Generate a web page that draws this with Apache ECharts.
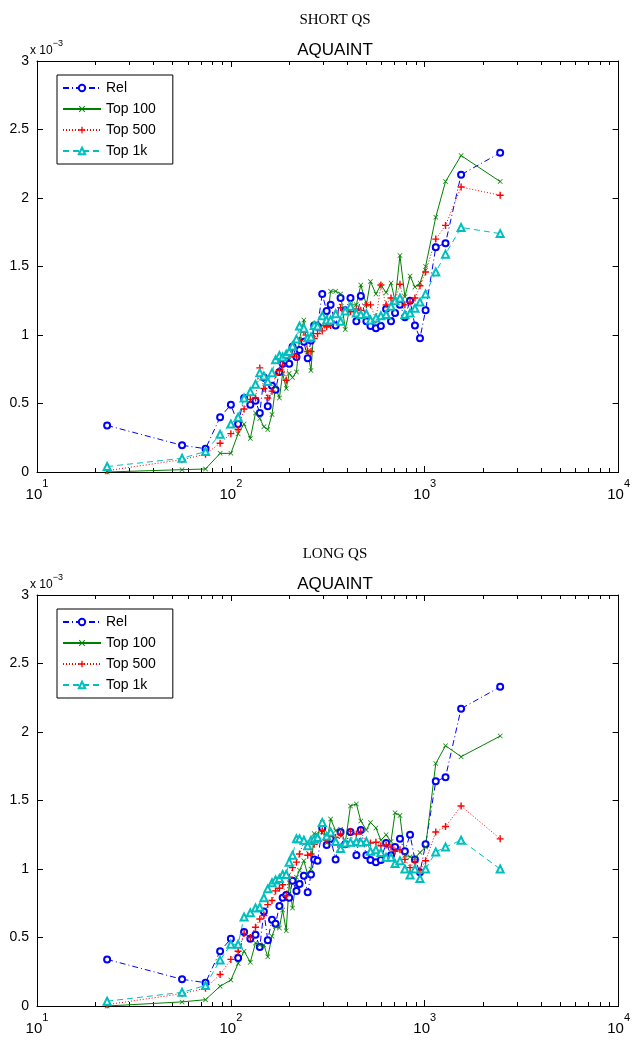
<!DOCTYPE html>
<html>
<head>
<meta charset="utf-8">
<script src="https://cdn.jsdelivr.net/npm/echarts@6/dist/echarts.min.js"></script>
<style>
  html, body { margin: 0; padding: 0; background: #fff; }
  #chart { width: 633px; height: 1040px; }
</style>
</head>
<body>
<div id="chart"></div>
<script>
// shared x positions (log scale)
var xVals = [23, 56, 74, 88, 100, 109, 117, 126, 134, 141, 148, 155, 163, 170, 178, 185, 193, 200, 208, 218,
    226, 238, 249, 259, 269, 280, 296, 312, 327, 347, 368, 389, 414, 444, 468, 500, 525, 560, 594, 632,
    670, 703, 745, 790, 840, 890, 945, 1010, 1140, 1280, 1540, 2450];

// values in units of 1e-3
var relVals = [0.34, 0.195, 0.17, 0.40, 0.49, 0.35, 0.54, 0.49, 0.52, 0.43, 0.69, 0.48, 0.63, 0.60, 0.73, 0.79, 0.81, 0.79, 0.915, 0.84,
    0.89, 0.95, 0.83, 0.96, 1.07, 1.06, 1.30, 1.175, 1.22, 1.07, 1.27, 1.18, 1.27, 1.10, 1.285, 1.10, 1.065, 1.05, 1.065, 1.19,
    1.10, 1.16, 1.22, 1.13, 1.25, 1.07, 0.976, 1.18, 1.64, 1.67, 2.17, 2.33];

var shortTop100 = [0.0, 0.017, 0.022, 0.136, 0.136, 0.28, 0.35, 0.245, 0.43, 0.39, 0.33, 0.31, 0.42, 0.62, 0.54, 0.72, 0.61, 0.72, 0.69, 0.73,
    0.97, 1.11, 0.88, 0.74, 1.08, 1.08, 1.07, 1.07, 1.32, 1.32, 1.30, 1.04, 1.22, 1.22, 1.365, 1.22, 1.39, 1.30, 1.365, 1.31,
    1.38, 1.25, 1.58, 1.28, 1.43, 1.35, 1.38, 1.50, 1.86, 2.12, 2.31, 2.12];
var shortTop500 = [0.01, 0.09, 0.13, 0.21, 0.28, 0.31, 0.46, 0.53, 0.54, 0.76, 0.61, 0.54, 0.59, 0.71, 0.74, 0.78, 0.67, 0.84, 0.86, 0.84,
    0.96, 1.02, 0.88, 0.88, 0.975, 1.01, 1.03, 1.06, 1.07, 1.16, 1.20, 1.18, 1.17, 1.19, 1.18, 1.22, 1.22, 1.11, 1.365, 1.22,
    1.27, 1.25, 1.37, 1.22, 1.24, 1.27, 1.36, 1.46, 1.70, 1.80, 2.08, 2.02];
var shortTop1k = [0.04, 0.10, 0.15, 0.275, 0.35, 0.40, 0.54, 0.585, 0.64, 0.725, 0.70, 0.66, 0.725, 0.82, 0.85, 0.84, 0.86, 0.88, 0.92, 0.97,
    1.065, 1.05, 0.98, 0.985, 1.07, 1.065, 1.14, 1.11, 1.11, 1.155, 1.10, 1.175, 1.21, 1.16, 1.15, 1.155, 1.11, 1.125, 1.14, 1.15,
    1.21, 1.25, 1.27, 1.15, 1.16, 1.195, 1.24, 1.30, 1.46, 1.59, 1.785, 1.74];

var longTop100 = [0.0, 0.03, 0.046, 0.144, 0.19, 0.31, 0.40, 0.32, 0.46, 0.445, 0.445, 0.36, 0.51, 0.58, 0.57, 0.70, 0.55, 0.90, 0.715, 0.94,
    0.99, 1.06, 0.96, 1.00, 1.26, 1.25, 1.34, 1.19, 1.365, 1.28, 1.29, 1.19, 1.46, 1.475, 1.35, 1.285, 1.34, 1.30, 1.21, 1.25,
    1.20, 1.41, 1.39, 1.10, 1.09, 1.08, 1.12, 1.16, 1.77, 1.90, 1.82, 1.97];
var longTop500 = [0.01, 0.09, 0.13, 0.23, 0.34, 0.40, 0.53, 0.50, 0.575, 0.635, 0.66, 0.74, 0.77, 0.84, 0.86, 0.885, 0.805, 0.94, 1.01, 1.05,
    1.11, 1.20, 1.10, 1.11, 1.18, 1.21, 1.28, 1.21, 1.255, 1.23, 1.255, 1.18, 1.275, 1.255, 1.275, 1.19, 1.19, 1.195, 1.17, 1.175,
    1.16, 1.13, 1.14, 1.07, 1.01, 1.05, 0.99, 1.06, 1.27, 1.31, 1.46, 1.22];
var longTop1k = [0.035, 0.10, 0.15, 0.335, 0.45, 0.45, 0.65, 0.68, 0.715, 0.72, 0.79, 0.855, 0.90, 0.92, 0.93, 0.96, 0.96, 1.05, 1.10, 1.22,
    1.22, 1.21, 1.17, 1.21, 1.22, 1.23, 1.34, 1.24, 1.27, 1.20, 1.15, 1.19, 1.195, 1.20, 1.195, 1.20, 1.13, 1.14, 1.12, 1.085,
    1.085, 1.04, 1.06, 1.00, 0.956, 1.00, 0.93, 1.00, 1.125, 1.16, 1.21, 1.00];

var seriesNames = ['Rel', 'Top 100', 'Top 500', 'Top 1k'];
var panelTitles = ['SHORT QS', 'LONG QS'];
var xMajor = [10, 100, 1000, 10000];
var xMinor = [20, 30, 40, 50, 60, 70, 80, 90, 200, 300, 400, 500, 600, 700, 800, 900,
    2000, 3000, 4000, 5000, 6000, 7000, 8000, 9000];

var panels = [
    [relVals, shortTop100, shortTop500, shortTop1k],
    [relVals, longTop100, longTop500, longTop1k]
];

var FONT = 'Liberation Sans';
var gridTops = [61, 595];

var styles = [
    { color: '#0000ff', line: [6, 3, 1, 3], symbol: 'emptyCircle', size: 6 },
    { color: '#008000', line: 'solid', symbol: 'path://M0,1L1,0L5,4L9,0L10,1L6,5L10,9L9,10L5,6L1,10L0,9L4,5Z', size: 5 },
    { color: '#ff0000', line: [1, 2], symbol: 'path://M4,0H6V4H10V6H6V10H4V6H0V4H4Z', size: 7 },
    { color: '#00bfbf', line: [6, 4], symbol: 'emptyTriangle', size: 7 }
];

function pairs(vals) {
    return xVals.map(function (x, i) { return [x, vals[i]]; });
}

var grids = [], xAxes = [], yAxes = [], series = [], titles = [], legends = [], graphics = [];

gridTops.forEach(function (top, g) {
    grids.push({ left: 37, top: top, width: 585, height: 411 });

    ['bottom', 'top'].forEach(function (pos) {
        xAxes.push({
            type: 'log', logBase: 10, gridIndex: g, position: pos, min: 10, max: 10000,
            axisLine: { onZero: false, lineStyle: { color: '#000', width: 1 } },
            axisTick: { inside: true, length: 6, customValues: xMajor, lineStyle: { color: '#000' } },
            axisLabel: {
                show: pos === 'bottom', customValues: xMajor, margin: 6, color: '#000',
                formatter: function (v) {
                    return '{b|10}{s|' + Math.round(Math.log10(v)) + '}';
                },
                rich: {
                    b: { fontFamily: FONT, fontSize: 15, lineHeight: 24, verticalAlign: 'bottom', color: '#000' },
                    s: { fontFamily: FONT, fontSize: 11, lineHeight: 12, verticalAlign: 'top', color: '#000' }
                }
            },
            splitLine: { show: false }
        });
        xAxes.push({
            type: 'log', logBase: 10, gridIndex: g, position: pos, min: 10, max: 10000,
            axisLine: { show: false, onZero: false },
            axisTick: { inside: true, length: 4, customValues: xMinor, lineStyle: { color: '#000' } },
            axisLabel: { show: false },
            splitLine: { show: false }
        });
    });

    ['left', 'right'].forEach(function (pos) {
        yAxes.push({
            type: 'value', gridIndex: g, position: pos, min: 0, max: 3, interval: 0.5,
            axisLine: { show: true, onZero: false, lineStyle: { color: '#000', width: 1 } },
            axisTick: { show: true, inside: true, length: 6, lineStyle: { color: '#000' } },
            axisLabel: { show: pos === 'left', color: '#000', fontFamily: FONT, fontSize: 14, margin: 8 },
            splitLine: { show: false }
        });
    });

    panels[g].forEach(function (vals, k) {
        var st = styles[k];
        series.push({
            name: seriesNames[k], type: 'line', xAxisIndex: g * 4, yAxisIndex: g * 2,
            data: pairs(vals),
            symbol: st.symbol, symbolSize: st.size, showAllSymbol: true,
            itemStyle: { color: st.color, borderColor: st.color, borderWidth: k === 0 || k === 3 ? 0.8 : 0 },
            lineStyle: { color: st.color, width: 1, type: st.line },
            silent: true
        });
    });

    titles.push({
        text: panelTitles[g], left: 330, top: top - 53, textAlign: 'center',
        textStyle: { fontFamily: 'Liberation Serif', fontWeight: 'normal', fontSize: 15, color: '#000' }
    });
    titles.push({
        text: 'AQUAINT', left: 330, top: top - 24, textAlign: 'center',
        textStyle: { fontFamily: FONT, fontWeight: 'normal', fontSize: 17, color: '#000' }
    });

    legends.push({
        orient: 'vertical', left: 57, top: top + 14,
        data: seriesNames,
        backgroundColor: '#fff', borderColor: '#000', borderWidth: 1, borderRadius: 0,
        padding: [6, 17, 6, 5],
        itemWidth: 38, itemHeight: 8, itemGap: 7,
        textStyle: { fontFamily: FONT, fontSize: 14, color: '#000' },
        selectedMode: false
    });

    graphics.push({
        type: 'text', left: 30, top: top - 22,
        style: {
            text: '{a|x 10}{e|\u22123}',
            rich: {
                a: { fontFamily: FONT, fontSize: 12, lineHeight: 18, verticalAlign: 'bottom', fill: '#000' },
                e: { fontFamily: FONT, fontSize: 9, lineHeight: 9, verticalAlign: 'top', fill: '#000' }
            }
        }
    });
});

var chart = echarts.init(document.getElementById('chart'));
chart.setOption({
    animation: false,
    backgroundColor: '#fff',
    title: titles,
    legend: legends,
    grid: grids,
    xAxis: xAxes,
    yAxis: yAxes,
    graphic: graphics,
    series: series
});
</script>
</body>
</html>
